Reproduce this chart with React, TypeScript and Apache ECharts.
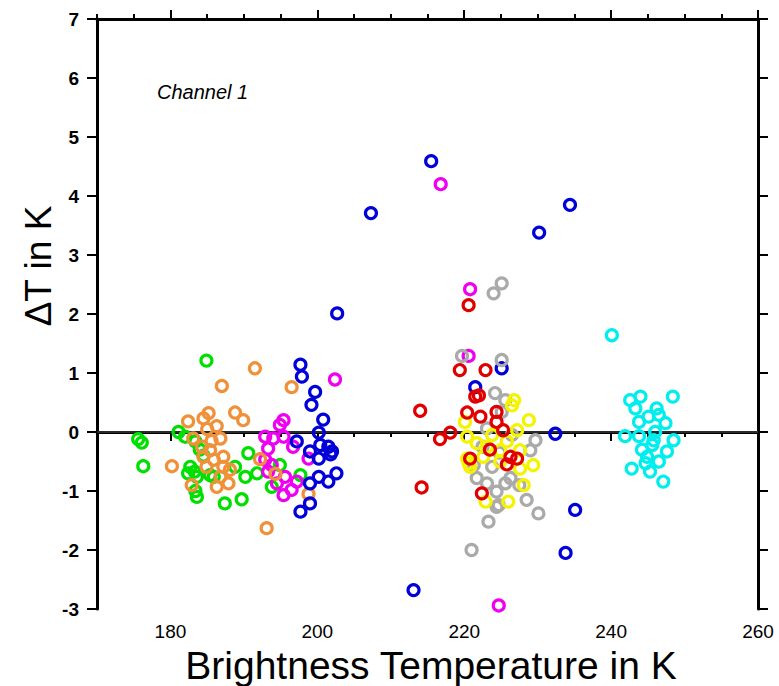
import React, { useEffect, useRef } from "react";
import * as echarts from "echarts";

// Brightness temperature (K) vs ΔT (K) for each source colour
const greenPts: number[][] = [
  [175.6, -0.12], [176.1, -0.18], [176.3, -0.58], [181.1, 0.0], [182.0, -0.08], [183.4, -0.16],
  [182.7, -0.59], [183.3, -0.67], [182.4, -0.7], [183.6, -0.76], [183.6, -1.1], [183.4, -1.0],
  [184.9, 1.21], [185.4, -0.73], [185.9, -0.76], [187.4, -1.21], [188.8, -0.59], [189.7, -1.14],
  [190.2, -0.76], [190.6, -0.36], [191.8, -0.7], [193.8, -0.93], [194.9, -0.56], [197.7, -0.73],
  [184.5, -0.4], [184.0, -0.3],
];
const magentaPts: number[][] = [
  [192.9, -0.08], [192.9, -0.47], [193.3, -0.28], [193.3, -0.67], [193.8, -0.56], [194.0, -0.11],
  [194.5, -0.87], [194.9, 0.12], [195.4, 0.2], [195.4, -0.08], [195.4, -1.07], [195.6, -0.76],
  [196.5, -0.98], [196.7, -0.25], [197.2, -0.84], [198.8, -0.45], [202.4, 0.89], [216.8, 4.2],
  [220.6, 1.29], [220.8, 2.42], [224.7, -2.94],
];
const orangePts: number[][] = [
  [180.2, -0.58], [182.4, 0.18], [182.9, -0.9], [183.1, -0.11], [184.3, -0.25], [184.5, 0.23],
  [184.5, -0.42], [184.9, -0.59], [185.2, 0.32], [185.4, -0.31], [185.9, -0.47], [186.3, 0.1],
  [186.3, -0.93], [186.8, -0.11], [186.8, -0.76], [187.0, 0.78], [187.2, -0.42], [187.2, -0.59],
  [187.9, -0.87], [188.1, -0.64], [188.8, 0.33], [189.9, 0.2], [191.5, 1.08], [192.2, -0.46],
  [193.1, -1.63], [194.3, -0.71], [196.5, 0.76], [198.8, -1.05], [185.0, 0.05], [185.6, -0.15],
];
const bluePts: number[][] = [
  [197.2, -0.16], [197.7, 1.14], [197.7, -1.35], [197.9, 0.94], [199.0, -0.33], [199.0, -0.87],
  [199.0, -1.21], [199.2, 0.46], [199.7, 0.68], [200.2, -0.01], [200.2, -0.45], [200.2, -0.76],
  [200.4, -0.22], [200.8, 0.21], [201.5, -0.25], [201.5, -0.84], [201.8, -0.38], [202.0, -0.33],
  [202.6, -0.7], [202.7, 2.01], [207.3, 3.71], [213.1, -2.68], [215.5, 4.59], [221.5, 0.76],
  [225.1, 1.08], [230.2, 3.38], [232.4, -0.03], [233.8, -2.05], [234.4, 3.85], [235.1, -1.32],
];
const grayPts: number[][] = [
  [219.7, 1.29], [221.0, -2.0], [221.3, -0.56], [221.7, -0.78], [223.1, 0.06], [223.1, -0.87],
  [223.3, -1.52], [223.8, -0.59], [224.0, 2.35], [224.2, 0.66], [224.4, -1.01], [224.4, -1.27],
  [224.7, -1.24], [225.1, 2.52], [225.1, 1.22], [225.1, 0.34], [225.6, 0.54], [225.6, -0.87],
  [226.3, -0.78], [228.5, -1.15], [229.0, -0.31], [229.7, -0.14], [230.1, -1.38], [222.5, -0.25],
  [224.8, -0.35], [226.5, -0.05], [227.5, -0.9],
];
const yellowPts: number[][] = [
  [220.1, 0.17], [220.4, -0.08], [220.4, -0.45], [220.6, -0.53], [220.8, -0.59], [221.7, -0.19],
  [222.6, -0.42], [222.9, -1.18], [223.1, -0.25], [224.9, -0.31], [224.9, -0.5], [225.8, -0.16],
  [226.0, -1.18], [226.8, 0.54], [226.5, 0.45], [227.2, 0.03], [227.6, -0.31], [227.6, -0.62],
  [228.1, -0.9], [228.8, 0.2], [229.4, -0.56], [223.8, -0.05],
];
const redPts: number[][] = [
  [214.0, 0.36], [214.2, -0.94], [216.7, -0.12], [218.1, -0.01], [219.4, 1.05], [220.4, 0.33],
  [220.6, 2.15], [220.8, -0.45], [221.5, 0.6], [222.0, 0.62], [222.2, 0.26], [222.4, -1.04],
  [222.9, 1.05], [224.4, 0.34], [224.4, 0.17], [225.3, 0.03], [226.3, -0.42], [227.2, -0.45],
  [223.5, -0.3], [225.8, -0.55],
];
const cyanPts: number[][] = [
  [240.1, 1.64], [241.9, -0.07], [242.6, 0.54], [242.8, -0.62], [243.3, 0.4], [243.8, 0.17],
  [243.8, -0.07], [244.0, 0.6], [244.7, -0.53], [244.9, -0.42], [245.1, 0.26], [245.3, -0.67],
  [245.6, -0.22], [245.8, -0.14], [246.2, 0.4], [246.5, 0.29], [246.5, -0.5], [247.1, -0.84],
  [247.4, 0.15], [247.6, -0.33], [248.4, 0.6], [248.5, -0.14], [244.2, -0.3], [246.0, 0.0],
];

const xMinorTicks = [170, 175, 180, 185, 190, 195, 200, 205, 210, 215, 220, 225, 230, 235, 240, 245, 250, 255, 260];
const xMajorTicks = [180, 200, 220, 240, 260];
const zeroLine: number[][] = [[170, 0], [260, 0]];

const groups: [number[][], string][] = [
  [greenPts, "#00e000"],
  [magentaPts, "#f000f0"],
  [orangePts, "#f0913a"],
  [bluePts, "#0000d8"],
  [grayPts, "#aaaaaa"],
  [yellowPts, "#f4f400"],
  [redPts, "#e00000"],
  [cyanPts, "#00eeee"],
];

const FONT = "'Liberation Sans', Arial, Helvetica, sans-serif";

export default function App() {
  const ref = useRef<HTMLDivElement>(null);
  useEffect(() => {
    document.body.style.margin = "0";
    const chart = echarts.init(ref.current!, null, { renderer: "svg" });
    const lineBase = { show: true, lineStyle: { color: "#000", width: 3 } };
    const tickStyle = { color: "#000", width: 2 };
    const xBase = { type: "value", min: 170, max: 260, splitLine: { show: false } };
    chart.setOption({
      animation: false,
      backgroundColor: "#fff",
      grid: { left: 97, right: 21, top: 19, bottom: 77, containLabel: false },
      xAxis: [
        {
          ...xBase, position: "bottom", axisLine: lineBase,
          axisTick: { show: true, customValues: xMinorTicks, length: 5, lineStyle: tickStyle },
          axisLabel: { show: false },
        },
        {
          ...xBase, position: "bottom", axisLine: { show: false },
          axisTick: { show: true, customValues: xMajorTicks, length: 9, lineStyle: tickStyle },
          axisLabel: { show: true, customValues: xMajorTicks, fontSize: 19, color: "#000", fontFamily: FONT, margin: 13 },
        },
        {
          ...xBase, position: "top", axisLine: lineBase,
          axisTick: { show: true, customValues: xMinorTicks, length: 5, lineStyle: tickStyle },
          axisLabel: { show: false },
        },
        {
          ...xBase, position: "top", axisLine: { show: false },
          axisTick: { show: true, customValues: xMajorTicks, length: 9, lineStyle: tickStyle },
          axisLabel: { show: false },
        },
      ],
      yAxis: [
        {
          type: "value", min: -3, max: 7, interval: 1, position: "left",
          axisLine: lineBase, splitLine: { show: false },
          axisTick: { show: true, length: 10, lineStyle: tickStyle },
          axisLabel: { fontSize: 19, fontWeight: "bold", color: "#000", fontFamily: FONT, margin: 18 },
        },
        {
          type: "value", min: -3, max: 7, interval: 1, position: "right",
          axisLine: lineBase, splitLine: { show: false },
          axisTick: { show: true, length: 10, lineStyle: tickStyle },
          axisLabel: { show: false },
        },
      ],
      graphic: [
        {
          type: "text", left: 157, top: 82,
          style: { text: "Channel 1", fill: "#000", font: `italic 20px ${FONT}` },
        },
        {
          type: "text", x: 38, y: 266, rotation: Math.PI / 2,
          style: { text: "ΔT in K", font: `37px ${FONT}`, fill: "#000", align: "center", verticalAlign: "middle" },
        },
        {
          type: "text", x: 431, y: 665,
          style: { text: "Brightness Temperature in K", font: `39px ${FONT}`, fill: "#000", align: "center", verticalAlign: "middle" },
        },
      ],
      series: [
        {
          type: "line", data: zeroLine, symbol: "none", silent: true, z: 1,
          lineStyle: { color: "#555", width: 1 },
        },
        ...groups.map(([d, c]) => ({
          type: "scatter", data: d, symbol: "circle", symbolSize: 11, z: 3,
          itemStyle: { color: "rgba(0,0,0,0)", borderColor: c, borderWidth: 3.2, opacity: 1 },
        })),
      ],
    });
    return () => chart.dispose();
  }, []);
  return <div ref={ref} style={{ position: "absolute", left: 0, top: 0, width: 779, height: 686 }} />;
}
